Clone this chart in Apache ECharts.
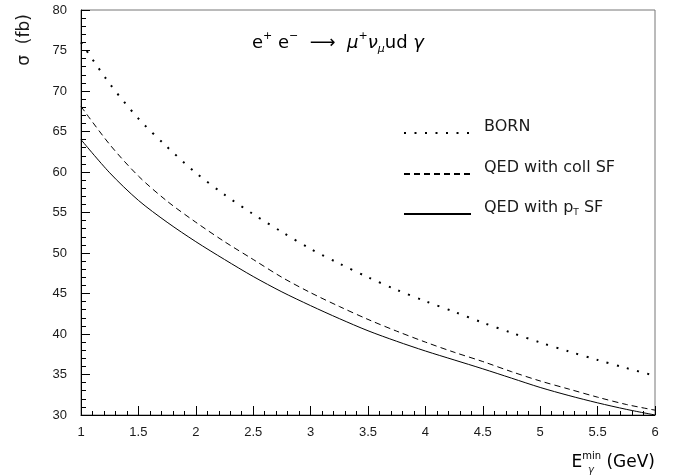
<!DOCTYPE html>
<html>
<head>
<meta charset="utf-8">
<script src="https://cdn.jsdelivr.net/npm/echarts@6/dist/echarts.min.js"></script>
<style>
html,body{margin:0;padding:0;background:#fff;}
#chart{width:681px;height:476px;}
</style>
</head>
<body>
<div id="chart"></div>
<script>
// ---- data ----
const eGammaMin = [1.0, 1.25, 1.5, 1.75, 2.0, 2.25, 2.5, 2.75, 3.0, 3.25, 3.5, 3.75, 4.0, 4.25, 4.5, 4.75, 5.0, 5.25, 5.5, 5.75, 6.0];
const bornValues = [76.0, 70.9, 66.6, 63.1, 59.9, 57.2, 54.8, 52.6, 50.5, 48.7, 47.0, 45.45, 44.05, 42.75, 41.4, 40.15, 38.95, 37.85, 36.8, 35.8, 34.85];
const qedCollValues = [68.1, 63.4, 59.5, 56.4, 53.8, 51.4, 49.2, 47.0, 45.1, 43.4, 41.8, 40.35, 39.0, 37.75, 36.6, 35.35, 34.2, 33.2, 32.2, 31.3, 30.6];
const qedPtValues = [64.0, 59.9, 56.5, 53.8, 51.4, 49.2, 47.1, 45.2, 43.5, 41.9, 40.4, 39.1, 37.9, 36.8, 35.7, 34.55, 33.4, 32.4, 31.5, 30.7, 30.0];
const seriesNames = ['BORN', 'QED with coll SF', 'QED with pT SF'];
const xTicks = [1, 1.5, 2, 2.5, 3, 3.5, 4, 4.5, 5, 5.5, 6];
const yTicks = [30, 35, 40, 45, 50, 55, 60, 65, 70, 75, 80];

const pair = (vals) => eGammaMin.map((x, i) => [x, vals[i]]);

const tickFont = 'Liberation Sans, Arial, sans-serif';
const textFont = 'DejaVu Sans, sans-serif';
const ink = '#1a1a1a';

const chart = echarts.init(document.getElementById('chart'), null, {renderer: 'canvas'});

function legendFor(name, y) {
  return {
    data: [{name: name}],
    left: 403,
    top: y - 13,
    padding: 0,
    itemWidth: 67,
    itemHeight: 14,
    selectedMode: false,
    itemStyle: {opacity: 0, color: 'rgba(0,0,0,0)', borderWidth: 0},
    formatter: function (n) {
      if (n === 'QED with pT SF') return '{f|QED with p}{s|T}{t| SF}';
      return '{f|' + n + '}';
    },
    textStyle: {
      color: ink,
      rich: {
        f: {fontFamily: textFont, fontSize: 16, color: ink, padding: [0, 0, 12, 8]},
        t: {fontFamily: textFont, fontSize: 16, color: ink, padding: [0, 0, 12, 0]},
        s: {fontFamily: textFont, fontSize: 9, color: ink, padding: [0, 0, 2, 0]}
      }
    }
  };
}

const option = {
  animation: false,
  backgroundColor: '#fff',
  grid: {left: 81, right: 26, top: 10, bottom: 61, show: true, borderColor: '#777', borderWidth: 1},
  legend: [legendFor(seriesNames[0], 132), legendFor(seriesNames[1], 173), legendFor(seriesNames[2], 213)],
  xAxis: {
    type: 'value', min: xTicks[0], max: xTicks[xTicks.length - 1], interval: 0.5,
    axisLine: {show: true, lineStyle: {color: '#000', width: 1}},
    axisTick: {show: true, inside: true, length: 9, lineStyle: {color: '#000'}},
    minorTick: {show: true, splitNumber: 5, length: 4, lineStyle: {color: '#000'}},
    splitLine: {show: false},
    axisLabel: {margin: 11, fontFamily: tickFont, fontSize: 13, color: ink}
  },
  yAxis: {
    type: 'value', min: yTicks[0], max: yTicks[yTicks.length - 1], interval: 5,
    axisLine: {show: true, lineStyle: {color: '#000', width: 1}},
    axisTick: {show: true, inside: true, length: 9, lineStyle: {color: '#000'}},
    minorTick: {show: true, splitNumber: 5, length: 5, lineStyle: {color: '#000'}},
    splitLine: {show: false},
    axisLabel: {margin: 14, fontFamily: tickFont, fontSize: 13, color: ink}
  },
  series: [
    {name: seriesNames[0], type: 'line', data: pair(bornValues), smooth: 0.3, symbol: 'none',
     lineStyle: {color: '#000', width: 2, type: [2, 8.5]}, itemStyle: {color: '#000'}},
    {name: seriesNames[1], type: 'line', data: pair(qedCollValues), smooth: 0.3, symbol: 'none',
     lineStyle: {color: '#000', width: 1, type: [6, 4]}, itemStyle: {color: '#000'}},
    {name: seriesNames[2], type: 'line', data: pair(qedPtValues), smooth: 0.3, symbol: 'none',
     lineStyle: {color: '#000', width: 1, type: 'solid'}, itemStyle: {color: '#000'}}
  ],
  graphic: [
    {
      type: 'text', left: 252, top: 31, silent: true,
      style: {
        text: '{n|e}{sp|+}{n| e}{sp|\u2212}{n|  \u27F6  }{g|\u03BC}{sp|+}{g|\u03BD}{sb|\u03BC}{n|ud }{g|\u03B3}',
        rich: {
          n: {fontFamily: textFont, fontSize: 18, color: ink, lineHeight: 24},
          g: {fontFamily: textFont, fontSize: 18, fontStyle: 'italic', color: ink, lineHeight: 24},
          sp: {fontFamily: textFont, fontSize: 11, color: ink, verticalAlign: 'top'},
          sb: {fontFamily: textFont, fontSize: 11, fontStyle: 'italic', color: ink, verticalAlign: 'bottom'}
        }
      }
    },
    {
      type: 'text', right: 26, top: 451, silent: true,
      style: {
        text: '{n|E}{sp|min}{n| (GeV)}',
        rich: {
          n: {fontFamily: textFont, fontSize: 17, color: ink, lineHeight: 24},
          sp: {fontFamily: textFont, fontSize: 10, color: ink, verticalAlign: 'top'}
        }
      }
    },
    {
      type: 'text', left: 588, top: 465, silent: true,
      style: {text: '\u03B3', fontFamily: textFont, fontSize: 10, fontStyle: 'italic', fill: ink}
    },
    {
      type: 'text', x: 25, y: 40, rotation: Math.PI / 2, silent: true,
      style: {text: '\u03C3  (fb)', fontFamily: textFont, fontSize: 17, fill: ink, align: 'center', verticalAlign: 'middle'}
    }
  ]
};
chart.setOption(option);
</script>
</body>
</html>
